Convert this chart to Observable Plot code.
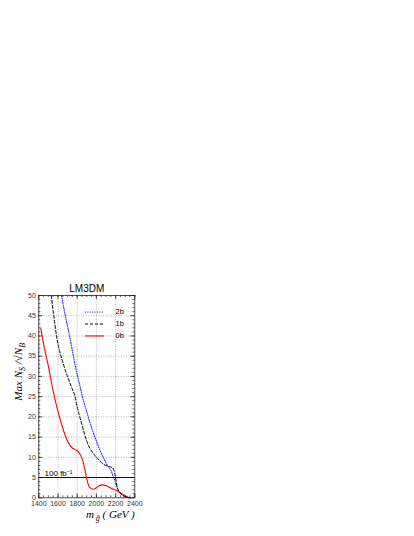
<!DOCTYPE html>
<html><head><meta charset="utf-8">
<script src="https://cdn.jsdelivr.net/npm/d3@7"></script>
<script src="https://cdn.jsdelivr.net/npm/@observablehq/plot@0.6"></script>
<style>body{margin:0;background:#fff}</style>
</head><body><div id="chart"></div>
<script>
// ---- data ----
const mass0b = [1420,1450,1500,1550,1600,1650,1700,1750,1780,1810,1840,1860,1880,1900,1920,1940,1970,2000,2030,2060,2100,2150,2200,2250,2300,2340];
const sig0b  = [42,38,32.5,26.3,21.3,17.2,14.0,12.3,11.9,11.4,10.3,9.0,7.0,4.6,3.0,2.4,2.1,2.5,3.0,3.2,3.0,2.4,1.9,1.2,0.5,0];
const mass1b = [1529,1556,1584,1615,1650,1696,1748,1775,1800,1820,1850,1870,1900,1930,1960,2000,2040,2080,2120,2150,2170,2185,2200,2215,2230,2260,2300,2350];
const sig1b  = [50,45,40.1,36.4,33.5,30.2,26.9,25.2,22.5,20.6,18.0,16.3,14.0,12.3,11.2,10.0,9.0,8.2,7.8,7.6,7.4,6.6,5.0,2.9,1.7,0.9,0.3,0];
const mass2b = [1636,1678,1720,1765,1800,1828,1852,1890,1920,1960,2000,2040,2080,2120,2150,2180,2200,2220,2250,2290,2350];
const sig2b  = [50,44.8,40.1,34.4,30.5,27.7,25.2,22.0,19.6,16.6,14.0,11.6,9.6,7.8,6.8,5.0,3.7,2.3,1.1,0.35,0];
const seriesNames = ["2b","1b","0b"];
const xTicks = [1400,1600,1800,2000,2200,2400];
const yTicks = [0,5,10,15,20,25,30,35,40,45,50];
const xMinor = d3.range(1400, 2401, 50);
const yMinor = d3.range(0, 51, 1);
const lumiLevel = [5];
const lumiLabel = ["100 fb\u207B\u00B9"];
const title = "LM3DM";

const styles = {
  "2b": {stroke: "#0000ff", dash: "1,1.4", w: 1},
  "1b": {stroke: "#000000", dash: "3,2", w: 1},
  "0b": {stroke: "#ff0000", dash: null, w: 1.1}
};
const toRows = (m, v, s) => m.map((x, i) => ({mass: x, val: v[i], s}));
const rows0 = toRows(mass0b, sig0b, "0b");
const rows1 = toRows(mass1b, sig1b, "1b");
const rows2 = toRows(mass2b, sig2b, "2b");

const sans = "Liberation Sans, Arial, Helvetica, sans-serif";
const serif = "Liberation Serif, Times New Roman, serif";

const line = (rows, s) => Plot.line(rows, {x: "mass", y: "val", stroke: styles[s].stroke,
  strokeWidth: styles[s].w, strokeDasharray: styles[s].dash, curve: "monotone-x"});

const legY = (d, i) => 45.9 - i * 2.95;

const chart = Plot.plot({
  width: 414, height: 536,
  marginLeft: 38.3, marginRight: 279.7, marginTop: 295, marginBottom: 38.7,
  style: {fontFamily: sans, background: "#fff", overflow: "visible"},
  x: {domain: [1400, 2400]},
  y: {domain: [0, 50]},
  marks: [
    Plot.ruleX(xTicks.slice(1, -1), {y1: 0, y2: 50, stroke: "#a0a0a0", strokeDasharray: "1,1.5", strokeWidth: 0.8}),
    Plot.ruleY(yTicks.slice(1, -1), {x1: 1400, x2: 2400, stroke: "#a0a0a0", strokeDasharray: "1,1.5", strokeWidth: 0.8}),
    // ticks (inside, ROOT style)
    Plot.ruleX(xMinor, {y1: 0, y2: 0.5, stroke: "#222", strokeWidth: 0.7}),
    Plot.ruleX(xMinor, {y1: 49.5, y2: 50, stroke: "#222", strokeWidth: 0.7}),
    Plot.ruleX(xTicks, {y1: 0, y2: 1, stroke: "#222", strokeWidth: 0.7}),
    Plot.ruleX(xTicks, {y1: 49, y2: 50, stroke: "#222", strokeWidth: 0.7}),
    Plot.ruleY(yMinor, {x1: 1400, x2: 1421, stroke: "#222", strokeWidth: 0.7}),
    Plot.ruleY(yMinor, {x1: 2379, x2: 2400, stroke: "#222", strokeWidth: 0.7}),
    Plot.ruleY(yTicks, {x1: 1400, x2: 1442, stroke: "#222", strokeWidth: 0.7}),
    Plot.ruleY(yTicks, {x1: 2358, x2: 2400, stroke: "#222", strokeWidth: 0.7}),
    Plot.axisX({ticks: xTicks, tickSize: 0, tickPadding: 3, fontSize: 7, tickFormat: d => String(d), label: null, fill: "#333"}),
    Plot.axisY({ticks: yTicks, tickSize: 0, tickPadding: 3, fontSize: 7, tickFormat: d => String(d), label: null, fill: "#333"}),
    // luminosity line
    Plot.ruleY(lumiLevel, {x1: 1400, x2: 2400, stroke: "#111", strokeWidth: 1.1}),
    Plot.text(lumiLabel, {x: 1460, y: lumiLevel[0], text: d => d, textAnchor: "start", lineAnchor: "bottom", dy: -1.5, fontSize: 8, fill: "#000"}),
    // curves
    line(rows0, "0b"),
    line(rows2, "2b"),
    line(rows1, "1b"),
    // legend
    ...seriesNames.map((s, i) => Plot.ruleY([legY(s, i)], {x1: 1886, x2: 2084, stroke: styles[s].stroke, strokeWidth: styles[s].w, strokeDasharray: styles[s].dash})),
    Plot.text(seriesNames, {x: 2200, y: legY, text: d => d, textAnchor: "start", fontSize: 7.5, fill: "#000"}),
    Plot.frame({stroke: "#222", strokeWidth: 0.8}),
    // title and axis titles
    Plot.text([title], {frameAnchor: "top", dy: -4, lineAnchor: "bottom", text: d => d, fontSize: 10, fill: "#000"}),
    Plot.text(["YLABEL"], {frameAnchor: "left", dx: -20, dy: 4, rotate: -90, text: d => d, fontSize: 11, fill: "#000"}),
    Plot.text(["XLABEL"], {frameAnchor: "bottom-right", dy: 20, textAnchor: "end", lineAnchor: "bottom", text: d => d, fontSize: 11, fill: "#000"})
  ]
});
document.getElementById("chart").appendChild(chart);

const svg = d3.select(chart);
svg.selectAll("text").filter(function () { return this.textContent === "YLABEL"; }).each(function () {
  const t = d3.select(this).text(null).attr("font-family", serif).attr("font-style", "italic");
  t.append("tspan").text("Max N");
  t.append("tspan").attr("font-size", 8).attr("dy", 2.5).text("S");
  t.append("tspan").attr("dy", -2.5).text(" /\u221AN");
  t.append("tspan").attr("font-size", 8).attr("dy", 2.5).text("B");
});
svg.selectAll("text").filter(function () { return this.textContent === "XLABEL"; }).each(function () {
  const t = d3.select(this).text(null).attr("font-family", serif).attr("font-style", "italic");
  t.append("tspan").text("m");
  t.append("tspan").attr("font-size", 8).attr("dy", 3.5).text(" g\u0303");
  t.append("tspan").attr("dy", -3.5).text(" ( GeV )");
});
</script>
</body></html>
